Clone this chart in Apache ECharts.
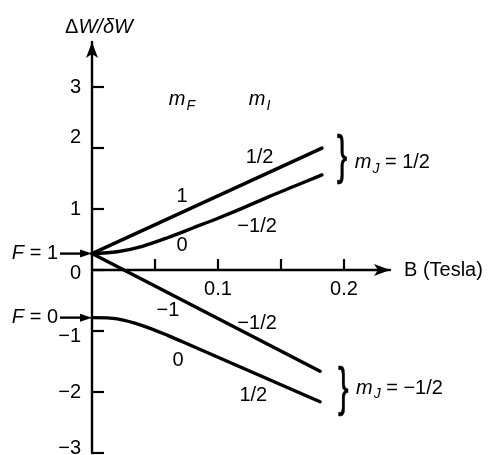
<!DOCTYPE html>
<html><head><meta charset="utf-8">
<script src="https://cdn.jsdelivr.net/npm/echarts@6/dist/echarts.min.js"></script>
<style>html,body{margin:0;padding:0;background:#fff}#c{width:490px;height:455px}</style>
</head><body><div id="c"></div>
<script>
// Hydrogen ground-state hyperfine levels in a magnetic field (Breit–Rabi diagram).
// B in tesla, energy in units of the zero-field splitting δW.
const bF1Up = [0, 0.1825];
const wF1Up = [0.27, 2.0];
const bM0Up = [0, 0.02, 0.04, 0.06, 0.08, 0.10, 0.12, 0.14, 0.16, 0.1825];
const wM0Up = [0.27, 0.30, 0.39, 0.53, 0.69, 0.85, 1.02, 1.20, 1.37, 1.56];
const bF1Down = [0, 0.181];
const wF1Down = [0.27, -1.66];
const bM0Down = [0, 0.02, 0.04, 0.06, 0.08, 0.10, 0.12, 0.14, 0.16, 0.181];
const wM0Down = [-0.78, -0.80, -0.91, -1.07, -1.25, -1.43, -1.61, -1.79, -1.97, -2.16];

const levelF1 = 0.27;   // F = 1 at zero field
const levelF0 = -0.78;  // F = 0 at zero field

const yTickValues = [-3, -2, -1, 0, 1, 2, 3];
const xTickValues = [0.05, 0.1, 0.15, 0.2];
const xLabelValues = [0.1, 0.2];

const FONT = '"Liberation Sans", Arial, Helvetica, sans-serif';
const FS = 20;

const zip = (xs, ys) => xs.map((x, i) => [x, ys[i]]);
const minus = v => (v < 0 ? '\u2212' + String(-v) : String(v));

const chart = echarts.init(document.getElementById('c'), null, { renderer: 'canvas' });

const lineSeries = (data, smooth) => ({
  type: 'line', data, smooth: smooth ? 0.3 : false,
  symbol: 'none', silent: true, clip: false,
  lineStyle: { color: '#000', width: 3.4, cap: 'round' }
});

const yNudge = { 2: 'up', 0: 'dn1', '-1': 'dn2', '-3': 'up2' };
const richBase = { fontSize: FS, fontFamily: FONT, color: '#000' };

const option = {
  animation: false,
  backgroundColor: '#fff',
  grid: { left: 92, right: 100, top: 42, bottom: 2, containLabel: false, outerBoundsMode: 'none' },
  xAxis: {
    type: 'value', min: 0, max: 0.2365, position: 'bottom', offset: 0,
    name: 'B (Tesla)', nameLocation: 'end', nameGap: 14,
    nameTextStyle: { fontSize: FS, fontFamily: FONT, color: '#000' },
    axisLine: { onZero: false, symbol: ['none', 'arrow'], symbolSize: [9, 16],
      lineStyle: { color: '#000', width: 2.4 } },
    axisTick: { show: true, inside: true, length: 11, customValues: xTickValues,
      lineStyle: { color: '#000', width: 2.2 } },
    axisLabel: { show: true, customValues: xLabelValues, margin: 9,
      fontSize: FS, fontFamily: FONT, color: '#000', formatter: v => String(v) },
    splitLine: { show: false }
  },
  yAxis: {
    type: 'value', min: -3, max: 3.74,
    axisLine: { show: true, onZero: false, symbol: ['none', 'arrow'], symbolSize: [9, 16],
      lineStyle: { color: '#000', width: 2.4 } },
    axisTick: { show: true, inside: true, length: 12, customValues: yTickValues,
      lineStyle: { color: '#000', width: 2.2 } },
    axisLabel: { show: true, customValues: yTickValues, margin: 11,
      fontSize: FS, fontFamily: FONT, color: '#000',
      formatter: v => { const k = yNudge[String(v)]; const s = minus(v); return k ? '{' + k + '|' + s + '}' : s; },
      rich: {
        up: Object.assign({ padding: [0, 0, 22, 0] }, richBase),
        up2: Object.assign({ padding: [0, 0, 10, 0] }, richBase),
        dn1: Object.assign({ padding: [6, 0, 0, 0] }, richBase),
        dn2: Object.assign({ padding: [10, 0, 0, 0] }, richBase)
      } },
    splitLine: { show: false }
  },
  series: [
    lineSeries(zip(bF1Up, wF1Up), false),
    lineSeries(zip(bM0Up, wM0Up), true),
    lineSeries(zip(bF1Down, wF1Down), false),
    lineSeries(zip(bM0Down, wM0Down), true)
  ]
};
chart.setOption(option);

function px(p) { return chart.convertToPixel({ gridIndex: 0 }, p); }

// Move the field axis (line, ticks, labels) up onto the zero-energy level
const zeroY = px([0, 0])[1];
const bottomY = px([0, -3])[1];
chart.setOption({ xAxis: { offset: -(bottomY - zeroY) } });

// Annotation texts placed in data coordinates
const richText = {
  i: { fontSize: FS, fontFamily: FONT, fontStyle: 'italic', color: '#000' },
  n: { fontSize: FS, fontFamily: FONT, color: '#000' },
  s: { fontSize: 14, fontFamily: FONT, fontStyle: 'italic', color: '#000', padding: [12, 0, 0, 1] }
};
const notes = [
  { t: '{i|m}{s|F}', at: [0.0714, 2.79], align: 'center' },
  { t: '{i|m}{s|I}', at: [0.133, 2.79], align: 'center' },
  { t: '{n|1}', at: [0.0714, 1.21], align: 'center' },
  { t: '{n|0}', at: [0.0714, 0.41], align: 'center' },
  { t: '{n|1/2}', at: [0.133, 1.84], align: 'center' },
  { t: '{n|\u22121/2}', at: [0.131, 0.72], align: 'center' },
  { t: '{n|\u22121}', at: [0.0603, -0.67], align: 'center' },
  { t: '{n|0}', at: [0.0683, -1.49], align: 'center' },
  { t: '{n|\u22121/2}', at: [0.131, -0.87], align: 'center' },
  { t: '{n|1/2}', at: [0.128, -2.05], align: 'center' },
  { t: '{i|m}{s|J}{n| = 1/2}', at: [0.2085, 1.76], align: 'left' },
  { t: '{i|m}{s|J}{n| = \u22121/2}', at: [0.2095, -1.94], align: 'left' }
];
const braces = [ [0.1985, 1.83], [0.1995, -1.98] ];

const graphics = [];
notes.forEach(n => {
  const p = px(n.at);
  graphics.push({ type: 'text', x: p[0], y: p[1], silent: true,
    style: { text: n.t, rich: richText, align: n.align, verticalAlign: 'middle' } });
});
braces.forEach(b => {
  const p = px(b);
  graphics.push({ type: 'text', x: p[0], y: p[1], scaleX: 0.6, silent: true,
    style: { text: '}', fontSize: 53, fontFamily: FONT, fill: '#000',
      stroke: '#000', lineWidth: 0.6, align: 'center', verticalAlign: 'middle' } });
});

// Zero-field level markers F = 1 and F = 0 with arrows onto the energy axis
[[levelF1, '{i|F}{n| = 1}'], [levelF0, '{i|F}{n| = 0}']].forEach(([w, label]) => {
  const tip = px([0, w]);
  const tail = [tip[0] - 32, tip[1]];
  graphics.push({ type: 'line', silent: true,
    shape: { x1: tail[0], y1: tail[1], x2: tip[0] - 8, y2: tip[1] },
    style: { stroke: '#000', lineWidth: 2.4 } });
  graphics.push({ type: 'polygon', silent: true,
    shape: { points: [[tip[0], tip[1]], [tip[0] - 12, tip[1] - 4], [tip[0] - 12, tip[1] + 4]] },
    style: { fill: '#000' } });
  graphics.push({ type: 'text', x: tail[0] - 2, y: tip[1], silent: true,
    style: { text: label, rich: richText, align: 'right', verticalAlign: 'middle' } });
});

// Energy axis title
const axisTop = px([0, 3.74]);
graphics.push({ type: 'text', x: axisTop[0] + 7, y: 27, silent: true,
  style: { text: '{n|\u0394}{i|W/\u03b4W}', rich: richText, align: 'center', verticalAlign: 'middle' } });

chart.setOption({ graphic: graphics });
</script>
</body></html>
